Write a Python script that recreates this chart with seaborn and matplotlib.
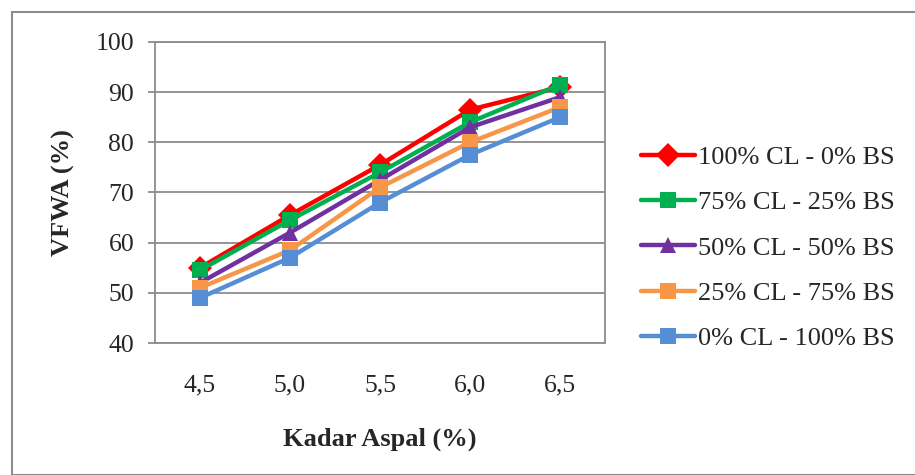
import matplotlib
matplotlib.use("Agg")
import matplotlib.pyplot as plt
import seaborn as sns
import pandas as pd
from matplotlib.patches import Rectangle

categories = ["4,5", "5,0", "5,5", "6,0", "6,5"]
series_names = ["100% CL - 0% BS", "75% CL - 25% BS", "50% CL - 50% BS",
                "25% CL - 75% BS", "0% CL - 100% BS"]
cl100 = [55.0, 65.5, 75.5, 86.5, 91.0]
cl75 = [54.5, 64.5, 74.0, 84.0, 91.5]
cl50 = [52.0, 62.0, 72.5, 83.0, 89.0]
cl25 = [51.0, 58.5, 71.0, 80.0, 87.0]
cl0 = [49.0, 57.0, 68.0, 77.5, 85.0]
yticks = [40, 50, 60, 70, 80, 90, 100]

colors = ["#FF0000", "#00B050", "#7030A0", "#F79646", "#558ED5"]
markers = ["D", "s", "^", "s", "s"]

rows = []
for name, vals in zip(series_names, [cl100, cl75, cl50, cl25, cl0]):
    for c, v in zip(categories, vals):
        rows.append({"x": c, "y": v, "series": name})
df = pd.DataFrame(rows)

sns.set_theme(style="white")
plt.rcParams["font.family"] = ["Liberation Serif", "DejaVu Serif"]

fig = plt.figure(figsize=(9.15, 4.75), dpi=100)
ax = fig.add_axes([155/915, 1-343/475, 450/915, 301/475])

sns.lineplot(data=df, x="x", y="y", hue="series", style="series",
             hue_order=series_names, style_order=series_names,
             palette=colors, markers=markers, dashes=False, sort=False,
             linewidth=3.2, markersize=12, markeredgewidth=0, ax=ax,
             zorder=3)

ax.set_xlim(-0.5, 4.5)
ax.set_ylim(40, 100)
ax.set_yticks(yticks)
ax.set_yticklabels([str(t) for t in yticks], fontsize=18.5)
ax.set_xticks(range(len(categories)))
ax.set_xticklabels(categories, fontsize=18.5)
ax.yaxis.grid(True, color="#8C8C8C", linewidth=1.3)
ax.xaxis.grid(False)
for s in ax.spines.values():
    s.set_color("#8C8C8C")
    s.set_linewidth(1.3)
ax.tick_params(axis="y", length=5, width=1.3, color="#8C8C8C", pad=10, direction="out", left=True)
ax.tick_params(axis="x", length=0, pad=23)
ax.set_xlabel("Kadar Aspal (%)", fontsize=19, fontweight="bold", labelpad=22)
ax.set_ylabel("VFWA (%)", fontsize=19, fontweight="bold", labelpad=15)

handles, labels = ax.get_legend_handles_labels()
ax.legend(handles, labels, loc="center left", bbox_to_anchor=(641/915, 1-248/475),
          bbox_transform=fig.transFigure, frameon=False, fontsize=19,
          handlelength=2.05, handletextpad=0.1, labelspacing=0.83,
          borderaxespad=0, borderpad=0)

fig.patches.append(Rectangle((12/915, 0), 1.0, 1-12/475, transform=fig.transFigure,
                             fill=False, edgecolor="#8C8C8C", linewidth=1.5))

fig.savefig("out.png", dpi=100)
